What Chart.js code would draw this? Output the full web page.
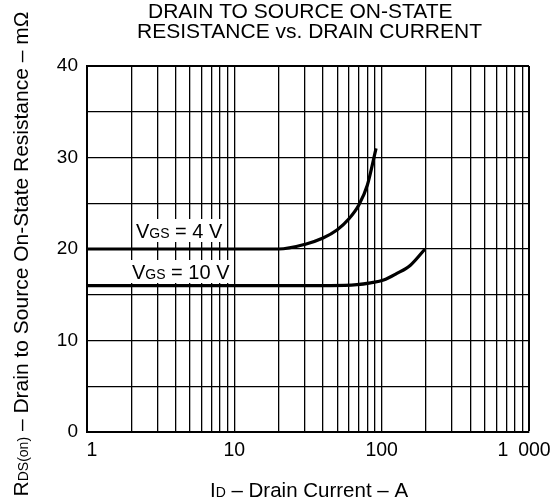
<!DOCTYPE html>
<html>
<head>
<meta charset="utf-8">
<script src="https://cdn.jsdelivr.net/npm/chart.js@4.4.0/dist/chart.umd.min.js"></script>
<style>
  html, body { margin: 0; padding: 0; background: #fff; }
  #wrap { width: 552px; height: 504px; }
</style>
</head>
<body>
<div id="wrap"><canvas id="chart" width="552" height="504"></canvas></div>
<script>
// curves: drain current (A) vs R_DS(on) (mOhm)
const id4V = [1, 20, 30, 40, 50, 60, 70, 80, 91.6];
const rds4V = [20, 20, 20.5, 21.2, 22.1, 23.3, 24.8, 27.0, 31.0];
const id10V = [1, 45, 68, 84, 103, 126, 156, 197];
const rds10V = [16, 16, 16.1, 16.3, 16.6, 17.3, 18.2, 20.0];

// log grid: 1..9, 10..90, 100..900, 1000
const xGridValues = [1, 2, 3, 4, 5, 6, 7, 8, 9,
  10, 20, 30, 40, 50, 60, 70, 80, 90,
  100, 200, 300, 400, 500, 600, 700, 800, 900, 1000];
// en spaces nudge the end labels the way the datasheet places them
const xTickLabels = { 1: '\u20021', 10: '10', 100: '100', 1000: '1\u2002000\u2002' };
const yTickLabels = [0, 10, 20, 30, 40];

const FONT = '"Liberation Sans", Arial, sans-serif';

function toPoints(xs, ys) {
  return xs.map((x, i) => ({ x: x, y: ys[i] }));
}

// draw a list of [text, size] pieces one after another
function runsWidth(ctx, runs) {
  let w = 0;
  runs.forEach(r => { ctx.font = r[1] + 'px ' + FONT; w += ctx.measureText(r[0]).width; });
  return w;
}
function drawRuns(ctx, runs, x, y) {
  let cx = x;
  runs.forEach(r => {
    ctx.font = r[1] + 'px ' + FONT;
    ctx.fillText(r[0], cx, y);
    cx += ctx.measureText(r[0]).width;
  });
}

const textPlugin = {
  id: 'texts',
  afterDraw(chart) {
    const ctx = chart.ctx;
    ctx.save();
    ctx.fillStyle = '#000';
    ctx.textBaseline = 'alphabetic';
    ctx.textAlign = 'left';

    // title
    ctx.font = '21px ' + FONT;
    ctx.fillText('DRAIN TO SOURCE ON-STATE', 148, 18);
    ctx.fillText('RESISTANCE vs. DRAIN CURRENT', 137, 38);

    // curve labels, white box behind them
    const lab4 = [['V', 20], ['GS', 14], [' = 4 V', 20]];
    const lab10 = [['V', 20], ['GS', 14], [' = 10 V', 20]];
    let w = runsWidth(ctx, lab4);
    ctx.fillStyle = '#fff';
    ctx.fillRect(133, 219, w + 5, 23);
    ctx.fillStyle = '#000';
    drawRuns(ctx, lab4, 136, 238);
    w = runsWidth(ctx, lab10);
    ctx.fillStyle = '#fff';
    ctx.fillRect(129, 260, w + 5, 23);
    ctx.fillStyle = '#000';
    drawRuns(ctx, lab10, 132, 279);

    // x axis title
    const xt = [['I', 20.5], ['D', 14], [' \u2013 Drain Current \u2013 A', 20.5]];
    w = runsWidth(ctx, xt);
    drawRuns(ctx, xt, 309 - w / 2, 497);

    // y axis title, rotated
    const yt = [['R', 21], ['DS(on)', 14], [' \u2013 Drain to Source On-State Resistance \u2013 m\u03a9', 21]];
    w = runsWidth(ctx, yt);
    ctx.translate(28, 254);
    ctx.rotate(-Math.PI / 2);
    drawRuns(ctx, yt, -w / 2, 0);
    ctx.restore();
  }
};

new Chart(document.getElementById('chart').getContext('2d'), {
  type: 'line',
  data: {
    datasets: [
      {
        label: 'VGS = 4 V',
        data: toPoints(id4V, rds4V),
        borderColor: '#000',
        borderWidth: 3.2,
        pointRadius: 0,
        cubicInterpolationMode: 'monotone',
        fill: false
      },
      {
        label: 'VGS = 10 V',
        data: toPoints(id10V, rds10V),
        borderColor: '#000',
        borderWidth: 3.2,
        pointRadius: 0,
        cubicInterpolationMode: 'monotone',
        fill: false
      }
    ]
  },
  options: {
    responsive: false,
    animation: false,
    devicePixelRatio: 1,
    layout: { padding: { top: 66, right: 23, left: 0, bottom: 0 } },
    plugins: {
      legend: { display: false },
      tooltip: { enabled: false }
    },
    scales: {
      x: {
        type: 'logarithmic',
        min: 1,
        max: 1000,
        afterBuildTicks: (scale) => {
          scale.ticks = xGridValues.map(v => ({ value: v }));
        },
        afterFit: (scale) => {
          scale.height = 72;
          scale.paddingLeft = 0;
          scale.paddingRight = 0;
        },
        ticks: {
          autoSkip: false,
          maxRotation: 0,
          padding: 7,
          color: '#000',
          font: { family: FONT, size: 19.5 },
          callback: (value) => xTickLabels[value] || ''
        },
        grid: {
          color: '#000',
          drawTicks: false,
          lineWidth: (c) => (c.tick && c.tick.value === 1000 ? 2 : 1.3)
        },
        border: { color: '#000', width: 2 }
      },
      y: {
        min: 0,
        max: 40,
        afterFit: (scale) => {
          scale.width = 87;
          scale.paddingTop = 0;
          scale.paddingBottom = 0;
        },
        ticks: {
          stepSize: 5,
          padding: 9,
          color: '#000',
          font: { family: FONT, size: 19 },
          callback: (value) => (yTickLabels.includes(value) ? String(value) : '')
        },
        grid: {
          color: '#000',
          drawTicks: false,
          lineWidth: (c) => (c.tick && c.tick.value === 40 ? 2 : 1.3)
        },
        border: { color: '#000', width: 2 }
      }
    }
  },
  plugins: [textPlugin]
});
</script>
</body>
</html>
